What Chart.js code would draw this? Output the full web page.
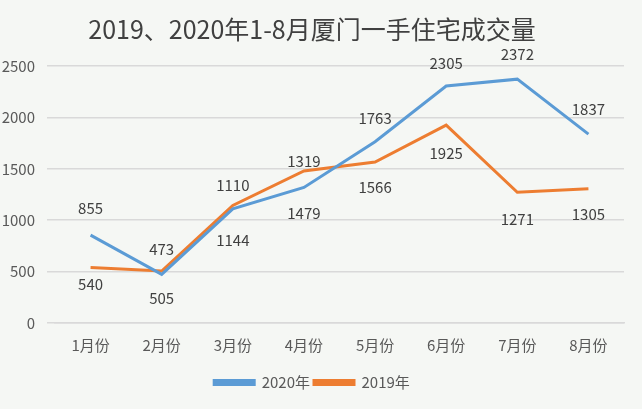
<!DOCTYPE html>
<html lang="zh">
<head>
<meta charset="UTF-8">
<title>厦门一手住宅成交量</title>
<style>
    body { margin: 0; background: #f5f7f4; }
    #wrap { width: 642px; height: 409px; }
</style>
</head>
<body>
<div id="wrap"><canvas id="chart"></canvas></div>
<script src="https://cdn.jsdelivr.net/npm/chart.js"></script>
<script>
const months = ['1月份', '2月份', '3月份', '4月份', '5月份', '6月份', '7月份', '8月份'];
const sales2020 = [855, 473, 1110, 1319, 1763, 2305, 2372, 1837];
const sales2019 = [540, 505, 1144, 1479, 1566, 1925, 1271, 1305];

const FONT = '"Noto Sans CJK SC", "Noto Sans", sans-serif';

// label offsets in px (2020 sits above its line, 2019 below, as in the source)
const labelOffsets = [
    [-27, -25, -24, -26, -23, -23, -25, -25],
    [17, 27, 35, 42, 25, 28, 27, 25]
];

const pointLabels = {
    id: 'pointLabels',
    afterDatasetsDraw(chart) {
        const ctx = chart.ctx;
        ctx.save();
        ctx.font = '15px ' + FONT;
        ctx.fillStyle = '#404040';
        ctx.textAlign = 'center';
        ctx.textBaseline = 'middle';
        chart.data.datasets.forEach((ds, i) => {
            chart.getDatasetMeta(i).data.forEach((pt, j) => {
                ctx.fillText(ds.data[j], pt.x, pt.y + labelOffsets[i][j]);
            });
        });
        ctx.restore();
    }
};

new Chart(document.getElementById('chart'), {
    type: 'line',
    data: {
        labels: months,
        datasets: [
            { label: '2020年', data: sales2020, borderColor: '#5b9bd5', backgroundColor: '#5b9bd5', borderWidth: 3, pointRadius: 0, tension: 0 },
            { label: '2019年', data: sales2019, borderColor: '#ed7d31', backgroundColor: '#ed7d31', borderWidth: 3, pointRadius: 0, tension: 0 }
        ]
    },
    options: {
        responsive: true,
        maintainAspectRatio: false,
        animation: false,
        layout: { padding: { left: 0, right: 18, top: 0, bottom: 9 } },
        plugins: {
            title: {
                display: true,
                text: '2019、2020年1-8月厦门一手住宅成交量',
                color: '#404040',
                font: { family: FONT, size: 25, weight: 'normal' },
                padding: { top: 14, bottom: 22 }
            },
            legend: {
                position: 'bottom',
                labels: {
                    color: '#595959',
                    font: { family: FONT, size: 15 },
                    boxWidth: 40,
                    boxHeight: 4,
                    padding: 4
                }
            },
            tooltip: { enabled: false }
        },
        scales: {
            x: {
                offset: true,
                grid: { display: false },
                border: { color: '#d9d9d9', width: 1.5 },
                ticks: { color: '#595959', font: { family: FONT, size: 15 }, padding: 5, maxRotation: 0 },
                afterFit(scale) { scale.height = 48; }
            },
            y: {
                min: 0,
                max: 2500,
                ticks: {
                    stepSize: 500,
                    color: '#595959',
                    font: { family: FONT, size: 15 },
                    padding: 12,
                    callback: v => String(v)
                },
                grid: { color: '#d9d9d9', lineWidth: 1.5 },
                border: { display: false },
                afterFit(scale) { scale.width = 55; }
            }
        }
    },
    plugins: [pointLabels]
});
</script>
</body>
</html>
